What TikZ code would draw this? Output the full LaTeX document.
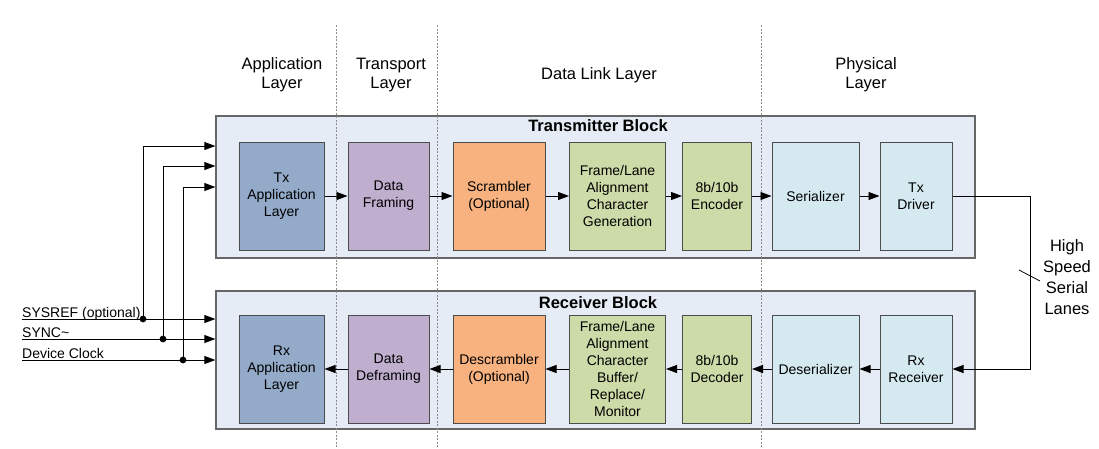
\documentclass[tikz,border=0pt]{standalone}
\usepackage{fontspec}
\setmainfont{Liberation Sans}
\usetikzlibrary{arrows.meta,positioning,calc}
\definecolor{blockbg}{HTML}{E6ECF6}
\definecolor{appcol}{HTML}{93AAC9}
\definecolor{transcol}{HTML}{C0AECE}
\definecolor{scrcol}{HTML}{F7B27F}
\definecolor{linkcol}{HTML}{CCDBA8}
\definecolor{phycol}{HTML}{D4EAF0}

\begin{document}
\begin{tikzpicture}[x=1pt,y=-1pt,font=\fontsize{14}{17}\selectfont,
  unit/.style={draw=black!70,line width=1pt,align=center,minimum height=108pt,inner sep=1pt},
  blockbox/.style={draw=black!60,fill=blockbg,line width=1.3pt,inner sep=0pt},
  wire/.style={-{Triangle[length=11pt,width=8pt]},line width=0.9pt},
  layerline/.style={black!45,line width=0.7pt,dash pattern=on 2pt off 1.5pt},
  hdr/.style={font=\fontsize{16.5}{19}\selectfont,align=center},
  blocktitle/.style={font=\bfseries\fontsize{16.5}{19}\selectfont},
  siglabel/.style={anchor=south west,inner sep=0pt,text depth=1pt}]
  \useasboundingbox (0,0) rectangle (1099,448);
  \node[blockbox,minimum width=759pt,minimum height=142pt] (txblock) at (595.5,187) {};
  \node[blockbox,minimum width=759pt,minimum height=138pt] (rxblock) at (595.5,360) {};
  \foreach \x in {336,437,761} \draw[layerline] (\x,25) -- (\x,448);

  \node[hdr] (applayer) at (282,75) {Application\\Layer};
  \node[hdr] (translayer) at (391,75) {Transport\\Layer};
  \node[hdr] (linklayer) at (599,75) {Data Link Layer};
  \node[hdr] (phylayer) at (866,75) {Physical\\Layer};
  \node[blocktitle] (txtitle) at (598,126) {Transmitter Block};
  \node[blocktitle] (rxtitle) at (598,303) {Receiver Block};

  \node[unit,fill=appcol,minimum width=85pt] (txapp) at (281.5,196) {Tx\\Application\\Layer};
  \node[unit,fill=transcol,minimum width=81pt] (txframe) at (388.5,196) {Data\\Framing};
  \node[unit,fill=scrcol,minimum width=92pt] (txscr) at (499,196) {Scrambler\\(Optional)};
  \node[unit,fill=linkcol,minimum width=96pt] (txalign) at (617.5,196) {Frame/Lane\\Alignment\\Character\\Generation};
  \node[unit,fill=linkcol,minimum width=69pt] (txenc) at (717,196) {8b/10b\\Encoder};
  \node[unit,fill=phycol,minimum width=87pt] (txser) at (815.5,196) {Serializer};
  \node[unit,fill=phycol,minimum width=72pt] (txdrv) at (916,196) {Tx\\Driver};

  \node[unit,fill=appcol,minimum width=85pt] (rxapp) at (281.5,369) {Rx\\Application\\Layer};
  \node[unit,fill=transcol,minimum width=81pt] (rxdeframe) at (388.5,369) {Data\\Deframing};
  \node[unit,fill=scrcol,minimum width=92pt] (rxdescr) at (499,369) {Descrambler\\(Optional)};
  \node[unit,fill=linkcol,minimum width=96pt] (rxalign) at (617.5,369) {Frame/Lane\\Alignment\\Character\\Buffer/\\Replace/\\Monitor};
  \node[unit,fill=linkcol,minimum width=69pt] (rxdec) at (717,369) {8b/10b\\Decoder};
  \node[unit,fill=phycol,minimum width=87pt] (rxdeser) at (815.5,369) {Deserializer};
  \node[unit,fill=phycol,minimum width=72pt] (rxrcv) at (916,369) {Rx\\Receiver};

  \foreach \a/\b in {txapp/txframe,txframe/txscr,txscr/txalign,txalign/txenc,txenc/txser,txser/txdrv,
    rxrcv/rxdeser,rxdeser/rxdec,rxdec/rxalign,rxalign/rxdescr,rxdescr/rxdeframe,rxdeframe/rxapp}
    \draw[wire] (\a) -- (\b);

  \foreach \name/\txt/\xx/\ytx/\yrx in {sysref/SYSREF (optional)/143/146/319,
    sync/SYNC\textasciitilde/163/166/339,devclk/Device Clock/183/187/360} {
    \node[siglabel] (\name) at (22,\yrx) {\txt};
    \coordinate (\name-up) at (\xx,\ytx);
    \draw[wire] (\name.south west) -- (\name.south west -| rxblock.west);
    \draw[wire] (\name.south west -| \name-up) -- (\name-up) -- (\name-up -| txblock.west);
    \fill (\name.south west -| \name-up) circle (3.4pt);
  }

  \coordinate (lanex) at (1030,0);
  \draw[wire] (txdrv.east) -- (txdrv.east -| lanex) -- (rxrcv.east -| lanex) -- (rxrcv.east);
  \node[hdr,font=\fontsize{16.5}{21}\selectfont] (lanes) at (1067,277) {High\\Speed\\Serial\\Lanes};
  \coordinate (lanetick) at (1019,270);
  \draw[line width=0.8pt] (lanetick) -- ++(21,11);
\end{tikzpicture}
\end{document}
